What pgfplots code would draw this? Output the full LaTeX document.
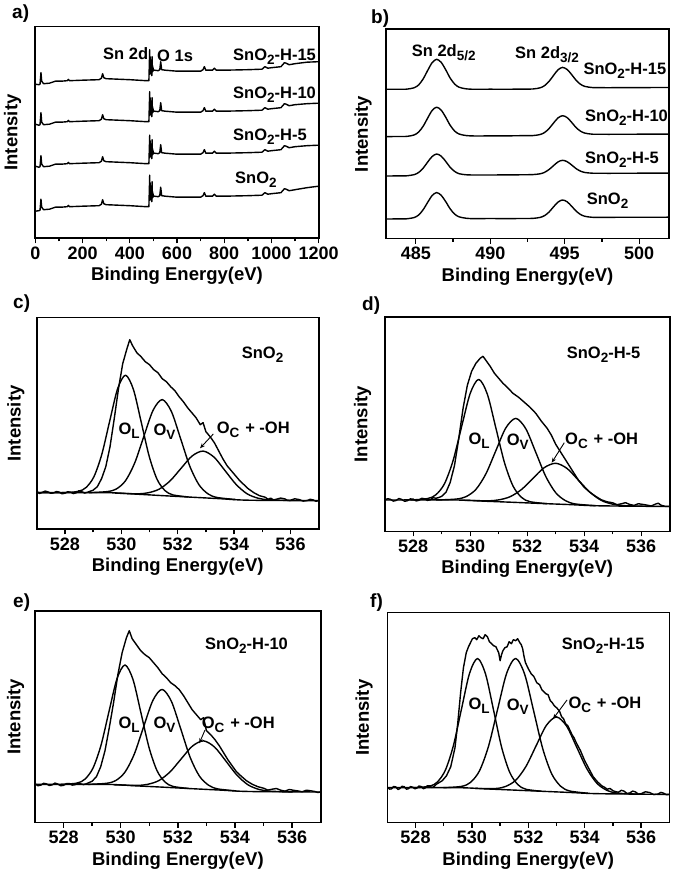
\documentclass[border=0pt]{standalone}
\usepackage{fontspec}
\setmainfont{Liberation Sans}
\usepackage{pgfplots}
\usepackage{pgfplotstable}
\pgfplotsset{compat=1.18}
\usetikzlibrary{arrows.meta}

\pgfplotstableread{
E s0 s5 s10 s15
0 26.5 71.5 113.5 153.5
15 27 70.5 112.5 153
20 27.5 71 113 153.5
24 38.5 82 125 165
27 30.5 73.5 115.5 156.5
35 28 71 113 154
60 28.5 71.5 113.5 154.5
85 30.5 73.5 115.5 156.5
110 30.5 73.5 115.5 156.5
135 31 74 116 157
140 32.3 75.3 117.3 158.3
145 31 74 116 157
200 31.5 74.5 116.5 157.5
270 32 75 117 158
280 33.5 76.5 118.5 159.5
285 38 81 123 164
290 34 77 119 160
300 33 76 118 159
400 32 75 117 158
470 31 74 116 157
481 31 74 116 157
484.5 62.5 102.5 146 188
485.5 40 83 125 166
486.5 55 97 140 181
487.5 38 81 123 164
488.5 52 94 137 178
489.5 38 81 123 164
490.5 48 91 133 174
491.5 37 80 122 163
492.5 50 93 135 176
493.5 36 79 121 162
494.5 56 98 140 181
495.5 40 83 125 166
496.5 46 89 131 172
497.5 40 83 125 166
498.5 44 87 129 170
500 41.5 84.5 126.5 167.5
505 41.5 84.5 126.5 167.5
520 41 84 126 167
527 42 85 127 168
531 50.5 93 135 176
535 42 85 127 168
550 41.5 84.5 126.5 167.5
600 40.5 83.5 125.5 166.5
700 40.5 83.5 125.5 166.5
710 42 85 127 168
716 45 88 130 171
722 41.5 84.5 126.5 167.5
750 41.5 84.5 126.5 167.5
758 43.5 86.5 128.5 169.5
766 41.5 84.5 126.5 167.5
800 41.5 84.5 126.5 167.5
900 42 85 127 168
960 42.5 85.5 127.5 168.5
972 45 88 130 171
985 43.5 86.5 128.5 169.5
1000 44 87 129 170
1040 45 88 130 171
1055 49 92 134 175
1062 48.5 91.5 133.5 174.5
1075 47 90 132 173
1100 48 91 133 174
1150 50 92 134 175.5
1200 51.5 92.5 134.5 176
}\survey

\pgfplotstableread{
E b0 b5 b10 b15
483 19.3 62.3 101.7 149.0
484 19.4 62.4 101.8 149.0
484.4 19.5 62.5 101.9 149.15
484.9 20.8 63.7 103.4 150.6
485.2 23.4 65.9 106.4 153.5
485.5 28.7 70.2 112.2 159.5
485.8 36.0 76.3 120.3 167.9
486.1 42.8 81.8 127.9 175.7
486.4 45.7 84.3 131.1 179.0
486.7 43.1 82.2 128.2 176.0
487.0 36.9 77.1 121.3 168.8
487.3 29.6 71.1 113.2 160.4
487.6 24.3 67.0 107.4 154.4
487.9 21.5 64.6 104.3 151.1
488.4 20.0 63.5 102.7 149.4
489 19.6 63.3 102.3 149.0
490 19.8 63.3 102.4 149.1
491 19.6 63.4 102.4 149.0
492 19.8 63.5 102.6 149.2
492.85 19.9 63.7 102.7 149.3
493.35 20.9 64.5 103.8 150.5
493.65 22.7 66.0 105.8 152.7
493.95 26.3 68.8 109.8 157.0
494.25 31.5 72.7 115.3 162.9
494.55 36.2 76.4 120.4 168.5
494.85 38.3 78.0 122.6 170.9
495.15 36.6 76.7 120.8 168.9
495.45 32.3 73.5 116.2 164.0
495.75 27.4 69.8 110.9 158.2
496.05 23.9 67.2 107.2 154.1
496.35 22.0 65.8 105.2 151.9
496.85 21.0 65.1 104.1 150.75
497.5 20.9 65.0 104.0 150.6
498.5 21.0 65.0 104.0 150.6
500 21.0 65.1 104.1 150.7
502 21.1 65.2 104.2 150.8
}\snd

\pgfplotsset{
  xps/.style={
    scale only axis,
    axis line style={line width=1.6pt},
    ytick=\empty,
    xtick pos=bottom,
    tick align=outside,
    major tick length=5pt,
    minor tick length=3pt,
    every tick/.style={black, line width=1.3pt},
    minor x tick num=1,
    tick label style={font=\fontsize{18}{20}\selectfont\bfseries},
    /pgf/number format/assume math mode=true,
    /pgf/number format/1000 sep={},
    xlabel={Binding Energy(eV)},
    ylabel={Intensity},
    label style={font=\fontsize{18.5}{20}\selectfont\bfseries},
    x label style={at={(axis description cs:0.5,0)}, anchor=base, yshift=-42.4pt, inner sep=0pt},
    every axis plot/.append style={line width=1.4pt, black, line join=round},
  },
  ols/.style={xps, xmin=527, xmax=537, xtick={528,530,532,534,536}},
}

\newcommand{\ann}{\fontsize{16.5}{18}\selectfont\bfseries}
\newcommand{\pl}{\fontsize{19}{21}\selectfont\bfseries}
\newcommand{\sub}[1]{\raisebox{-0.24em}{\fontsize{13.5}{14}\selectfont #1}}

\begin{document}
\begin{tikzpicture}
\path[use as bounding box] (0pt,0pt) rectangle (675pt,870pt);

% ---------- a) survey
\begin{axis}[xps, at={(35.3pt,631.7pt)}, anchor=south west,
  width=283.4pt, height=211.6pt, xmin=0, xmax=1200, ymin=-0.6, ymax=211,
  xtick={0,200,...,1200},
  y label style={at={(axis description cs:-0.080,0.5)}, anchor=center}]
\addplot[sharp plot] table[x=E,y=s0] {\survey};
\addplot[sharp plot] table[x=E,y=s5] {\survey};
\addplot[sharp plot] table[x=E,y=s10] {\survey};
\addplot[sharp plot] table[x=E,y=s15] {\survey};
\end{axis}

% ---------- b) Sn 3d
\begin{axis}[xps, at={(386pt,631.3pt)}, anchor=south west,
  width=283pt, height=209.4pt, xmin=483, xmax=502, ymin=-0.4, ymax=209,
  xtick={485,490,495,500},
  y label style={at={(axis description cs:-0.081,0.5)}, anchor=center}]
\addplot[smooth] table[x=E,y=b0] {\snd};
\addplot[smooth] table[x=E,y=b5] {\snd};
\addplot[smooth] table[x=E,y=b10] {\snd};
\addplot[smooth] table[x=E,y=b15] {\snd};
\end{axis}

% ---------- c) SnO2 O1s
\begin{axis}[ols, at={(36.7pt,340.7pt)}, anchor=south west,
  width=282pt, height=211.6pt, ymin=-0.6, ymax=211,
  y label style={at={(axis description cs:-0.074,0.5)}, anchor=center}]
\addplot[smooth] coordinates {(527,36.1)(529.5,36.0)(530.5,34.6)(531.5,33.0)(532.5,31.5)(533.5,30.0)(534.5,28.5)(537,28.0)};
\addplot[smooth] coordinates {(527,36.1)(527.91,36.0)(528.47,37.3)(528.75,41.2)(529.03,52.0)(529.31,74.5)(529.59,107.8)(529.87,140.0)(530.15,153.5)(530.43,139.2)(530.71,106.1)(530.99,72.3)(531.27,49.3)(531.55,38.1)(531.83,33.8)(532.39,31.7)};
\addplot[smooth] coordinates {(528.85,36.0)(529.5,37.1)(529.825,39.7)(530.15,48.0)(530.475,65.7)(530.8,92.3)(531.125,118.3)(531.45,129.1)(531.775,117.3)(532.1,90.3)(532.425,62.8)(532.75,44.1)(533.075,34.8)(533.4,31.2)(534.05,29.2)};
\addplot[smooth] coordinates {(529.78,35.6)(530.56,34.9)(530.95,35.9)(531.34,39.5)(531.73,47.8)(532.12,60.4)(532.51,72.7)(532.9,77.6)(533.29,71.5)(533.68,58.0)(534.07,44.3)(534.46,34.9)(534.85,30.5)(535.24,28.9)(536.02,28.2)};
\addplot[sharp plot] coordinates {(527.0,37.5)(527.1,35.2)(527.2,36.4)(527.3,37.6)(527.4,36.8)(527.5,35.4)(527.6,35.8)(527.7,37.2)(527.8,36.6)(527.9,34.9)(528.0,35.5)(528.1,37.0)(528.2,36.5)(528.3,35.1)(528.4,35.9)(528.5,38.0)(528.6,37.0)(528.7,35.6)(528.8,36.4)(528.9,37.5)(529.0,38.5)(529.15,42)(529.3,50)(529.45,62)(529.6,82)(529.75,110)(529.9,140)(530.05,165)(530.2,180)(530.3,189)(530.4,183)(530.55,176)(530.7,172)(530.85,167)(531.0,164)(531.15,159)(531.3,156)(531.45,150)(531.6,147)(531.75,142)(531.9,138)(532.05,132)(532.2,127)(532.35,121)(532.5,116)(532.65,111)(532.8,104)(532.9,106)(533.0,97)(533.15,92)(533.3,86)(533.45,78)(533.6,70)(533.75,63)(533.9,58)(534.05,53)(534.2,48)(534.35,44)(534.5,40)(534.7,36)(534.9,33)(535.1,31.5)(535.2,29.5)(535.3,30.5)(535.4,28.8)(535.5,29.5)(535.65,30.6)(535.8,29.8)(535.9,28.2)(536.0,28.5)(536.15,29.9)(536.3,29.2)(536.45,27.6)(536.6,28.2)(536.7,29.4)(536.8,28.8)(536.9,27.5)(537.0,28.0)};
\end{axis}

% ---------- d) SnO2-H-5 O1s
\begin{axis}[ols, at={(384.7pt,338.5pt)}, anchor=south west,
  width=285pt, height=214.2pt, ymin=1.8, ymax=216,
  y label style={at={(axis description cs:-0.078,0.5)}, anchor=center}]
\addplot[smooth] coordinates {(527,33.3)(529.5,33.3)(530.5,32.1)(531.5,31.0)(532.5,29.8)(533.5,28.7)(534.5,27.5)(537,26.8)};
\addplot[smooth] coordinates {(527.9,33.3)(528.5,34.7)(528.8,38.6)(529.1,49.7)(529.4,72.8)(529.7,106.8)(530.0,139.9)(530.3,153.9)(530.6,139.2)(530.9,105.4)(531.2,70.9)(531.5,47.4)(531.8,35.9)(532.1,31.6)(532.7,29.6)};
\addplot[smooth] coordinates {(528.8,33.3)(529.5,34.2)(529.85,36.6)(530.2,43.9)(530.55,59.4)(530.9,82.6)(531.25,105.4)(531.6,114.9)(531.95,104.6)(532.3,81.0)(532.65,56.9)(533.0,40.6)(533.35,32.5)(533.7,29.3)(534.4,27.6)};
\addplot[smooth] coordinates {(529.8,33.0)(530.6,32.5)(531.0,33.4)(531.4,36.6)(531.8,43.8)(532.2,54.9)(532.6,65.7)(533.0,70.0)(533.4,64.8)(533.8,53.0)(534.2,41.1)(534.6,32.9)(535.0,29.1)(535.4,27.65)(536.2,27.0)};
\addplot[sharp plot] coordinates {(527.0,33.0)(527.1,34.6)(527.2,34.0)(527.3,32.2)(527.4,32.8)(527.5,34.8)(527.6,33.8)(527.7,32.0)(527.8,32.6)(527.9,34.4)(528.0,34.2)(528.1,32.4)(528.2,33.0)(528.3,35.0)(528.4,34.5)(528.5,32.9)(528.6,33.5)(528.7,35.6)(528.8,35.0)(528.9,35.8)(529.0,37.0)(529.15,41)(529.3,51)(529.45,68)(529.6,95)(529.75,125)(529.9,148)(530.05,162)(530.2,170)(530.35,175)(530.45,177)(530.55,173)(530.7,167)(530.85,160)(531.0,155)(531.15,150)(531.3,146)(531.5,140)(531.7,136)(531.9,131)(532.1,126)(532.3,120)(532.5,112)(532.7,105)(532.85,98)(533.0,89)(533.2,80)(533.4,71)(533.6,62)(533.8,53)(534.0,46)(534.2,41)(534.4,37)(534.6,33.5)(534.8,31.5)(535.0,30.5)(535.15,28.6)(535.3,29.5)(535.45,30.6)(535.6,28.8)(535.75,27.9)(535.9,29.6)(536.05,28.9)(536.2,28.2)(536.35,27.3)(536.5,29.2)(536.6,30.1)(536.7,28.0)(536.85,26.9)(537.0,27.0)};
\end{axis}

% ---------- e) SnO2-H-10 O1s
\begin{axis}[ols, at={(35pt,47.3pt)}, anchor=south west,
  width=285.7pt, height=211.7pt, ymin=0, ymax=211.7,
  y label style={at={(axis description cs:-0.068,0.5)}, anchor=center}]
\addplot[smooth] coordinates {(527,38.3)(529.5,38.3)(530.5,36.9)(531.5,35.5)(532.5,34.0)(533.5,32.6)(534.5,31.2)(537,30.7)};
\addplot[smooth] coordinates {(527.91,38.3)(528.47,39.6)(528.75,43.6)(529.03,54.6)(529.31,77.4)(529.59,111.2)(529.87,144.0)(530.15,157.7)(530.43,143.2)(530.71,109.6)(530.99,75.3)(531.27,52.1)(531.55,40.7)(531.83,36.3)(532.39,34.2)};
\addplot[smooth] coordinates {(528.85,38.3)(529.5,39.4)(529.825,42.1)(530.15,50.6)(530.475,68.6)(530.8,95.8)(531.125,122.2)(531.45,133.3)(531.775,121.3)(532.1,93.9)(532.425,65.8)(532.75,46.8)(533.075,37.5)(533.4,33.8)(534.05,31.8)};
\addplot[smooth] coordinates {(529.78,37.9)(530.56,37.3)(530.95,38.4)(531.34,42.2)(531.73,50.9)(532.12,63.9)(532.51,76.6)(532.9,81.8)(533.29,75.5)(533.68,61.7)(534.07,47.5)(534.46,37.8)(534.85,33.2)(535.24,31.5)(536.02,30.8)};
\addplot[sharp plot] coordinates {(527.0,39.0)(527.1,37.0)(527.2,37.5)(527.3,39.4)(527.4,38.8)(527.5,37.2)(527.6,37.8)(527.7,39.6)(527.8,38.6)(527.9,36.9)(528.0,37.4)(528.1,39.0)(528.2,39.2)(528.3,37.6)(528.4,38.0)(528.5,39.8)(528.6,38.8)(528.7,38.1)(528.8,39.0)(528.9,40.2)(529.0,41.5)(529.15,46)(529.3,56)(529.45,72)(529.6,95)(529.75,120)(529.9,148)(530.05,170)(530.2,185)(530.3,192)(530.4,184)(530.55,178)(530.7,172)(530.85,168)(531.0,165)(531.15,160)(531.3,155)(531.45,149)(531.6,145)(531.75,140)(531.9,137)(532.05,133)(532.2,127)(532.35,120)(532.5,113)(532.65,108)(532.8,103)(532.9,105)(533.0,92)(533.15,88)(533.3,83)(533.45,77)(533.6,70)(533.75,63)(533.9,57)(534.05,51)(534.2,47)(534.4,42)(534.6,38.5)(534.8,36)(535.0,34.5)(535.15,32.6)(535.3,33.5)(535.45,34.2)(535.6,32.5)(535.75,31.6)(535.9,33.2)(536.05,32.4)(536.2,31.8)(536.35,30.9)(536.5,32.5)(536.65,31.9)(536.8,31.2)(536.9,30.2)(537.0,30.7)};
\end{axis}

% ---------- f) SnO2-H-15 O1s
\begin{axis}[ols, at={(387.3pt,47.3pt)}, anchor=south west,
  width=282pt, height=210pt, ymin=0, ymax=210,
  y label style={at={(axis description cs:-0.082,0.5)}, anchor=center}]
\addplot[smooth] coordinates {(527,35.0)(529.5,35.0)(530.5,33.8)(531.5,32.6)(532.5,31.4)(533.5,30.2)(534.5,29.0)(537,28.3)};
\addplot[smooth] coordinates {(527.92,35.0)(528.49,36.4)(528.775,40.7)(529.06,52.6)(529.345,77.2)(529.63,113.6)(529.915,149.2)(530.2,164.2)(530.485,148.5)(530.77,112.3)(531.055,75.3)(531.34,50.4)(531.625,38.2)(531.91,33.5)(532.48,31.4)};
\addplot[smooth] coordinates {(528.99,35.0)(529.63,36.3)(529.95,40.3)(530.27,51.9)(530.59,76.5)(530.91,113.2)(531.23,149.2)(531.55,164.3)(531.87,148.5)(532.19,111.7)(532.51,74.2)(532.83,48.8)(533.15,36.4)(533.47,31.7)(534.11,29.5)};
\addplot[smooth] coordinates {(530.12,34.3)(530.84,34.2)(531.2,36.3)(531.56,42.6)(531.92,56.4)(532.28,77.1)(532.64,97.3)(533.0,105.7)(533.36,96.5)(533.72,75.3)(534.08,53.8)(534.44,39.2)(534.8,32.2)(535.16,29.6)(535.88,28.6)};
\addplot[sharp plot] coordinates {(527.0,35.5)(527.08,33.6)(527.15,33.8)(527.22,36.2)(527.3,35.8)(527.38,33.2)(527.45,34.2)(527.52,36.4)(527.6,36.0)(527.68,33.5)(527.75,34.0)(527.82,36.1)(527.9,35.5)(527.98,33.9)(528.05,34.6)(528.12,36.6)(528.2,36.2)(528.28,34.0)(528.35,34.8)(528.42,37.0)(528.5,36.8)(528.58,35.2)(528.65,36.0)(528.72,38.0)(528.8,39.5)(528.95,42)(529.1,47)(529.25,56)(529.4,75)(529.5,100)(529.6,130)(529.7,155)(529.8,170)(529.88,176)(529.95,180)(530.02,184)(530.1,185)(530.17,183)(530.25,187)(530.32,185)(530.4,184)(530.47,188)(530.55,186)(530.62,181)(530.7,179)(530.77,177)(530.85,176)(530.9,173)(530.95,170)(531.0,162)(531.05,168)(531.1,172)(531.17,175)(531.25,176)(531.32,181)(531.4,179)(531.47,183)(531.55,182)(531.62,184)(531.7,180)(531.75,178)(531.8,174)(531.85,166)(531.9,160)(532.0,154)(532.1,149)(532.2,146)(532.3,140)(532.4,138)(532.48,133)(532.55,131)(532.62,129)(532.7,128)(532.78,122)(532.85,120)(532.92,117)(533.0,115)(533.1,112)(533.18,106)(533.25,104)(533.32,99)(533.4,97)(533.55,88)(533.62,85)(533.7,80)(533.85,72)(534.0,62)(534.15,54)(534.3,46)(534.45,41)(534.6,37)(534.7,35.5)(534.8,33.5)(534.9,34.2)(535.0,32.0)(535.1,31.0)(535.2,30.5)(535.3,32.4)(535.4,31.5)(535.5,29.2)(535.6,29.8)(535.7,31.6)(535.8,30.8)(535.9,28.6)(536.0,29.0)(536.15,30.9)(536.3,30.2)(536.45,28.1)(536.6,28.6)(536.7,30.3)(536.8,29.5)(536.9,27.9)(537.0,28.3)};
\end{axis}

% ---------- panel letters
\node[anchor=west, inner sep=0pt, font=\pl] at (12pt,856.5pt) {a)};
\node[anchor=west, inner sep=0pt, font=\pl] at (371pt,851pt) {b)};
\node[anchor=west, inner sep=0pt, font=\pl] at (13pt,566pt) {c)};
\node[anchor=west, inner sep=0pt, font=\pl] at (362pt,564pt) {d)};
\node[anchor=west, inner sep=0pt, font=\pl] at (13pt,267.5pt) {e)};
\node[anchor=west, inner sep=0pt, font=\pl] at (370pt,267.5pt) {f)};

% ---------- annotations
\begin{scope}[every node/.style={anchor=base west, inner sep=0pt, font=\ann}]
\node at (103pt,810pt) {Sn 2d};
\node at (157pt,808.5pt) {O 1s};
\node at (233pt,809.3pt) {SnO\sub{2}-H-15};
\node at (233pt,771.7pt) {SnO\sub{2}-H-10};
\node at (233pt,729.3pt) {SnO\sub{2}-H-5};
\node at (235pt,686.7pt) {SnO\sub{2}};

\node at (411.7pt,813.3pt) {Sn 2d\sub{5/2}};
\node at (515pt,811.7pt) {Sn 2d\sub{3/2}};
\node at (583.3pt,795pt) {SnO\sub{2}-H-15};
\node at (585pt,748.3pt) {SnO\sub{2}-H-10};
\node at (585pt,706.7pt) {SnO\sub{2}-H-5};
\node at (586.7pt,665pt) {SnO\sub{2}};

\node at (241.7pt,511.7pt) {SnO\sub{2}};
\node at (118.3pt,435pt) {O\sub{L}};
\node at (153.3pt,434.3pt) {O\sub{V}};
\node at (216.7pt,436.7pt) {O\sub{C}\hspace{0.35em}+ -OH};

\node at (566.7pt,511.7pt) {SnO\sub{2}-H-5};
\node at (468.3pt,425pt) {O\sub{L}};
\node at (506.7pt,424pt) {O\sub{V}};
\node at (565pt,425pt) {O\sub{C}\hspace{0.35em}+ -OH};

\node at (205pt,220pt) {SnO\sub{2}-H-10};
\node at (118.3pt,141.7pt) {O\sub{L}};
\node at (153.3pt,141pt) {O\sub{V}};
\node at (201.7pt,141pt) {O\sub{C}\hspace{0.35em}+ -OH};

\node at (561.7pt,220pt) {SnO\sub{2}-H-15};
\node at (468.3pt,160pt) {O\sub{L}};
\node at (506.7pt,159pt) {O\sub{V}};
\node at (568.3pt,161.7pt) {O\sub{C}\hspace{0.35em}+ -OH};
\end{scope}

\begin{scope}[line width=0.9pt, -{Stealth[length=5pt,width=4pt]}]
\draw (213.3pt,436pt) -- (200pt,421.7pt);
\draw (564.3pt,427.3pt) -- (551.7pt,407.3pt);
\draw (205pt,140pt) -- (199.3pt,126.7pt);
\draw (567pt,170pt) -- (553pt,151pt);
\end{scope}
\end{tikzpicture}
\end{document}
